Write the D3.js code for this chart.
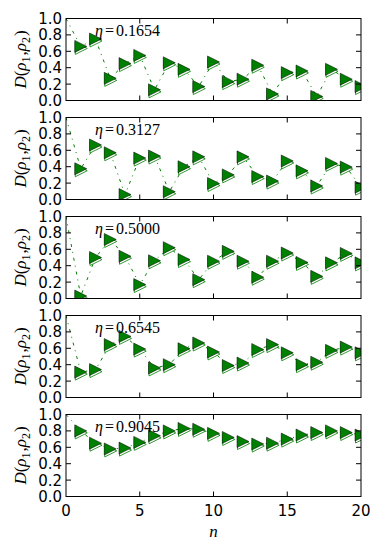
<!DOCTYPE html>
<html>
<head>
<meta charset="utf-8">
<script src="https://cdn.jsdelivr.net/npm/d3@7"></script>
<style>
  body { margin: 0; background: #fff; }
  .tick-lbl { font-family: "DejaVu Sans", sans-serif; font-size: 15px; fill: #000; }
  .math { font-family: "Liberation Serif", "DejaVu Serif", serif; fill: #000; }
</style>
</head>
<body>
<svg id="svg1" width="382" height="553"></svg>
<script>

// steps n = 0..20
var steps = d3.range(0, 21);

var etas = ["0.1654", "0.3127", "0.5000", "0.6545", "0.9045"];

// D(rho1,rho2), first value is n = 0
var d1 = [1.00, 0.66, 0.75, 0.27, 0.45, 0.55, 0.13, 0.46, 0.38, 0.17, 0.47,
          0.23, 0.26, 0.43, 0.08, 0.34, 0.36, 0.05, 0.38, 0.26, 0.17];
var d2 = [1.00, 0.375, 0.665, 0.57, 0.06, 0.505, 0.53, 0.095, 0.40, 0.52, 0.195,
          0.30, 0.52, 0.28, 0.225, 0.47, 0.35, 0.165, 0.44, 0.395, 0.15];
var d3v = [1.00, 0.03, 0.50, 0.72, 0.515, 0.17, 0.46, 0.62, 0.475, 0.23, 0.455,
           0.575, 0.455, 0.26, 0.455, 0.555, 0.44, 0.27, 0.435, 0.55, 0.435];
var d4 = [1.00, 0.31, 0.34, 0.645, 0.745, 0.59, 0.36, 0.40, 0.595, 0.665, 0.555,
          0.39, 0.42, 0.585, 0.645, 0.545, 0.40, 0.43, 0.575, 0.615, 0.545];
var d5 = [1.00, 0.80, 0.65, 0.58, 0.59, 0.66, 0.74, 0.80, 0.83, 0.82, 0.77,
          0.72, 0.67, 0.64, 0.65, 0.70, 0.75, 0.78, 0.80, 0.78, 0.75];
var series = [d1, d2, d3v, d4, d5];

var yTicks = [0, 0.2, 0.4, 0.6, 0.8, 1.0];
var xTicks = [0, 5, 10, 15, 20];

var svg = d3.select("#svg1");
var left = 66, right = 361, top0 = 18.5, panelH = 82, gap = 99;

var x = d3.scaleLinear().domain([0, 20]).range([left, right]);

var tri = function(r) {
  return "M" + (-r) + "," + (-r) + "L" + r + ",0L" + (-r) + "," + r + "Z";
};

series.forEach(function(vals, i) {
  var top = top0 + i * gap;
  var y = d3.scaleLinear().domain([0, 1]).range([top + panelH, top]);

  var g = svg.append("g");

  g.append("clipPath").attr("id", "clip" + i)
    .append("rect")
    .attr("x", left).attr("y", top)
    .attr("width", right - left).attr("height", panelH);

  var plot = g.append("g").attr("clip-path", "url(#clip" + i + ")");

  var line = d3.line()
    .x(function(d, k) { return x(steps[k]); })
    .y(function(d) { return y(d); });

  plot.append("path")
    .datum(vals)
    .attr("d", line)
    .attr("fill", "none")
    .attr("stroke", "#008000")
    .attr("stroke-width", 1)
    .attr("stroke-dasharray", "3,5,1,5");

  // markers only from n = 1
  var pts = vals.map(function(v, k) { return {n: steps[k], v: v}; }).slice(1);

  // hollow shadow marker under each filled one
  plot.selectAll(".shadow")
    .data(pts)
    .enter().append("path")
    .attr("class", "shadow")
    .attr("d", tri(6))
    .attr("transform", function(d) { return "translate(" + (x(d.n) + 0.5) + "," + (y(d.v) + 2) + ")"; })
    .attr("fill", "#fff")
    .attr("stroke", "#008000")
    .attr("stroke-width", 0.8);

  plot.selectAll(".mk")
    .data(pts)
    .enter().append("path")
    .attr("class", "mk")
    .attr("d", tri(6))
    .attr("transform", function(d) { return "translate(" + x(d.n) + "," + y(d.v) + ")"; })
    .attr("fill", "#008000")
    .attr("stroke", "#000")
    .attr("stroke-width", 0.5);

  // frame
  g.append("rect")
    .attr("x", left).attr("y", top)
    .attr("width", right - left).attr("height", panelH)
    .attr("fill", "none").attr("stroke", "#000").attr("stroke-width", 1);

  // ticks pointing inwards on all sides
  var tl = 5;
  xTicks.slice(1, -1).forEach(function(t) {
    g.append("line").attr("x1", x(t)).attr("x2", x(t))
      .attr("y1", top + panelH).attr("y2", top + panelH - tl)
      .attr("stroke", "#000");
    g.append("line").attr("x1", x(t)).attr("x2", x(t))
      .attr("y1", top).attr("y2", top + tl)
      .attr("stroke", "#000");
  });
  yTicks.slice(1, -1).forEach(function(t) {
    g.append("line").attr("x1", left).attr("x2", left + tl)
      .attr("y1", y(t)).attr("y2", y(t)).attr("stroke", "#000");
    g.append("line").attr("x1", right).attr("x2", right - tl)
      .attr("y1", y(t)).attr("y2", y(t)).attr("stroke", "#000");
  });

  g.selectAll(".ylbl")
    .data(yTicks)
    .enter().append("text")
    .attr("class", "tick-lbl")
    .attr("x", left - 4)
    .attr("y", function(d) { return y(d) + 5.5; })
    .attr("text-anchor", "end")
    .text(function(d) { return d.toFixed(1); });

  // y label D(rho1,rho2)
  var yl = g.append("text")
    .attr("class", "math")
    .attr("font-size", 17)
    .attr("transform", "translate(26," + (top + panelH / 2) + ") rotate(-90)")
    .attr("text-anchor", "middle");
  yl.append("tspan").attr("font-style", "italic").text("D");
  yl.append("tspan").text("(");
  yl.append("tspan").attr("font-style", "italic").text("ρ");
  yl.append("tspan").attr("font-size", 12).attr("dy", 3.5).text("1");
  yl.append("tspan").attr("dy", -3.5).attr("dx", 1).text(",");
  yl.append("tspan").attr("font-style", "italic").text("ρ");
  yl.append("tspan").attr("font-size", 12).attr("dy", 3.5).text("2");
  yl.append("tspan").attr("dy", -3.5).attr("dx", 1).text(")");

  // eta annotation
  var ann = g.append("text")
    .attr("class", "math")
    .attr("font-size", 16)
    .attr("x", 95)
    .attr("y", top + 17);
  ann.append("tspan").attr("font-style", "italic").text("η");
  ann.append("tspan").attr("dx", 2).text("=");
  ann.append("tspan").attr("dx", 2).text(etas[i]);

  if (i === series.length - 1) {
    g.selectAll(".xlbl")
      .data(xTicks)
      .enter().append("text")
      .attr("class", "tick-lbl")
      .attr("x", function(d) { return x(d); })
      .attr("y", top + panelH + 19)
      .attr("text-anchor", "middle")
      .text(function(d) { return d; });

    g.append("text")
      .attr("class", "math")
      .attr("font-size", 17)
      .attr("font-style", "italic")
      .attr("x", (left + right) / 2)
      .attr("y", top + panelH + 40)
      .attr("text-anchor", "middle")
      .text("n");
  }
});
</script>
</body>
</html>
